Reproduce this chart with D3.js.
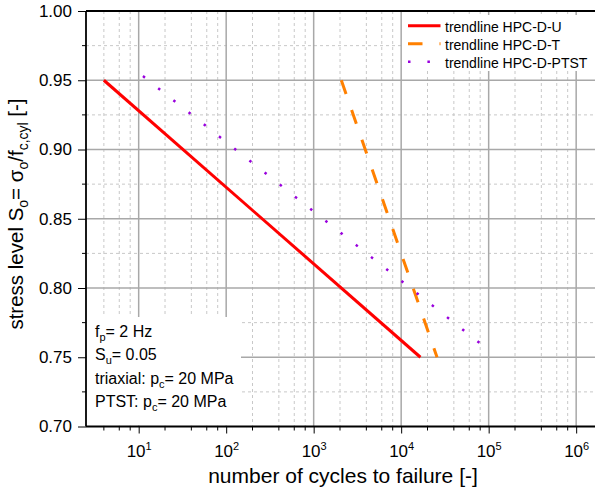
<!DOCTYPE html>
<html>
<head>
<meta charset="utf-8">
<script src="https://cdn.jsdelivr.net/npm/d3@7"></script>
<style>
  body { margin: 0; background: #fff; }
  svg { display: block; font-family: "Liberation Sans", Arial, sans-serif; }
</style>
</head>
<body>
<div id="chart"></div>
<script>
// trendlines (number of cycles vs. stress level), two end points each
const seriesNames = ["trendline HPC-D-U", "trendline HPC-D-T", "trendline HPC-D-PTST"];
const cyclesU = [4, 16600];
const stressU = [0.95, 0.75];
const cyclesT = [2070, 25700];
const stressT = [0.95, 0.75];
const cyclesPTST = [11.2, 80000];
const stressPTST = [0.953, 0.76];

const yTicks = [0.70, 0.75, 0.80, 0.85, 0.90, 0.95, 1.00];
const yMinor = [0.725, 0.775, 0.825, 0.875, 0.925, 0.975];
const xTicks = [1e1, 1e2, 1e3, 1e4, 1e5, 1e6];
const xExponents = ["1", "2", "3", "4", "5", "6"];
const minorMult = [2, 4, 6, 8];
const notes = [
    [["f", ""], ["p", "sub"], ["= 2 Hz", ""]],
    [["S", ""], ["u", "sub"], ["= 0.05", ""]],
    [["triaxial: p", ""], ["c", "sub"], ["= 20 MPa", ""]],
    [["PTST: p", ""], ["c", "sub"], ["= 20 MPa", ""]]
];

const width = 595;
const height = 494;
const pLeft = 86, pTop = 11, pBottom = 426.5, pRight = 602.5;

const svg = d3.select('#chart')
    .append('svg')
    .attr('width', width)
    .attr('height', height);

const x = d3.scaleLog().domain([2.5, 2e6]).range([pLeft, pRight]);
const y = d3.scaleLinear().domain([0.7, 1.0]).range([pBottom, pTop]);

const xMinor = [];
for (let k = 0; k <= 6; k++) {
    for (let m of minorMult) {
        const v = m * Math.pow(10, k);
        if (v >= 2.5 && v <= 2e6) xMinor.push(v);
    }
}

// grid
const grid = svg.append('g').classed('grid', true);
grid.selectAll('.xminor').data(xMinor).enter().append('line')
    .attr('x1', d => x(d)).attr('x2', d => x(d))
    .attr('y1', pTop).attr('y2', pBottom)
    .attr('stroke', '#c8c8c8').attr('stroke-dasharray', '3,3');
grid.selectAll('.yminor').data(yMinor).enter().append('line')
    .attr('x1', pLeft).attr('x2', width)
    .attr('y1', d => y(d)).attr('y2', d => y(d))
    .attr('stroke', '#c8c8c8').attr('stroke-dasharray', '3,3');
grid.selectAll('.xmajor').data(xTicks).enter().append('line')
    .attr('x1', d => x(d)).attr('x2', d => x(d))
    .attr('y1', pTop).attr('y2', pBottom)
    .attr('stroke', '#a8a8a8').attr('stroke-width', 1.5);
grid.selectAll('.ymajor').data(yTicks.slice(1, -1)).enter().append('line')
    .attr('x1', pLeft).attr('x2', width)
    .attr('y1', d => y(d)).attr('y2', d => y(d))
    .attr('stroke', '#a8a8a8').attr('stroke-width', 1.5);

// note box covering the grid
svg.append('rect')
    .attr('x', pLeft + 1).attr('y', 317)
    .attr('width', 154).attr('height', pBottom - 317 - 1)
    .attr('fill', '#fff');

const noteText = svg.append('g').style('font-size', '16px');
notes.forEach((parts, i) => {
    const t = noteText.append('text')
        .attr('x', 95).attr('y', 336.5 + i * 23.5);
    parts.forEach((p, j) => {
        const s = t.append('tspan').text(p[0]);
        if (p[1] === 'sub') s.attr('dy', 4).style('font-size', '11px');
        else if (j > 0) s.attr('dy', -4);
    });
});

// axes
const yAxis = d3.axisLeft(y).tickValues(yTicks).tickSize(8).tickPadding(6)
    .tickFormat(d3.format('.2f'));
svg.append('g')
    .classed('y axis', true)
    .attr('transform', `translate(${pLeft},0)`)
    .call(yAxis)
    .call(g => g.select('.domain').remove())
    .call(g => g.selectAll('text').style('font-size', '17px').attr('fill', '#000'));
svg.append('g').selectAll('line').data(yMinor).enter().append('line')
    .attr('x1', pLeft - 4).attr('x2', pLeft)
    .attr('y1', d => y(d)).attr('y2', d => y(d))
    .attr('stroke', '#000');

const xAxis = d3.axisBottom(x).tickValues(xTicks).tickSize(7).tickFormat('');
const xg = svg.append('g')
    .classed('x axis', true)
    .attr('transform', `translate(0,${pBottom})`)
    .call(xAxis)
    .call(g => g.select('.domain').remove());
xg.selectAll('.tick').each(function (d, i) {
    const t = d3.select(this).append('text')
        .attr('y', 30).attr('fill', '#000')
        .style('font-size', '17px')
        .attr('text-anchor', 'middle');
    t.append('tspan').text('10');
    t.append('tspan').attr('dy', -7).style('font-size', '11px').text(xExponents[i]);
});
svg.append('g').selectAll('line').data(xMinor).enter().append('line')
    .attr('x1', d => x(d)).attr('x2', d => x(d))
    .attr('y1', pBottom).attr('y2', pBottom + 4)
    .attr('stroke', '#000');

// spines
svg.append('line').attr('x1', pLeft).attr('x2', pLeft).attr('y1', pTop).attr('y2', pBottom)
    .attr('stroke', '#000').attr('stroke-width', 1.8);
svg.append('line').attr('x1', pLeft).attr('x2', width).attr('y1', pBottom).attr('y2', pBottom)
    .attr('stroke', '#000').attr('stroke-width', 1.8);
svg.append('line').attr('x1', pLeft).attr('x2', width).attr('y1', pTop).attr('y2', pTop)
    .attr('stroke', '#000').attr('stroke-width', 1.8);

// trendlines
const styles = [
    { color: '#ff0000', width: 3, dash: null },
    { color: '#ff8000', width: 3, dash: '14.5,17' },
    { color: '#9900dd', width: 2.5, dash: '2.5,16.9' }
];
const series = [
    d3.zip(cyclesU, stressU),
    d3.zip(cyclesT, stressT),
    d3.zip(cyclesPTST, stressPTST)
];
const line = d3.line().x(d => x(d[0])).y(d => y(d[1]));
series.forEach((s, i) => {
    svg.append('path')
        .datum(s)
        .attr('d', line)
        .attr('fill', 'none')
        .attr('stroke', styles[i].color)
        .attr('stroke-width', styles[i].width)
        .attr('stroke-dasharray', styles[i].dash);
});

// legend
const legend = svg.append('g');
legend.append('rect')
    .attr('x', 402).attr('y', 15)
    .attr('width', width - 402).attr('height', 56)
    .attr('fill', '#fff');
seriesNames.forEach((name, i) => {
    const yy = 32.3 + i * 18;
    legend.append('line')
        .attr('x1', 408).attr('x2', 440.5)
        .attr('y1', yy - 6.5).attr('y2', yy - 6.5)
        .attr('stroke', styles[i].color)
        .attr('stroke-width', styles[i].width)
        .attr('stroke-dasharray', styles[i].dash);
    legend.append('text')
        .attr('x', 445).attr('y', yy)
        .style('font-size', '14px')
        .text(name);
});

// axis titles
svg.append('text')
    .attr('x', (206 + 480) / 2).attr('y', 483)
    .attr('text-anchor', 'middle')
    .style('font-size', '21px')
    .text('number of cycles to failure [-]');

const yt = svg.append('text')
    .attr('transform', 'translate(23,214) rotate(-90)')
    .attr('text-anchor', 'middle')
    .style('font-size', '20.5px');
yt.append('tspan').text('stress level S');
yt.append('tspan').attr('dy', 5).style('font-size', '14px').text('o');
yt.append('tspan').attr('dy', -5).text('= σ');
yt.append('tspan').attr('dy', 5).style('font-size', '14px').text('o');
yt.append('tspan').attr('dy', -5).text('/f');
yt.append('tspan').attr('dy', 5).style('font-size', '14px').text('c,cyl');
yt.append('tspan').attr('dy', -5).text(' [-]');
</script>
</body>
</html>
